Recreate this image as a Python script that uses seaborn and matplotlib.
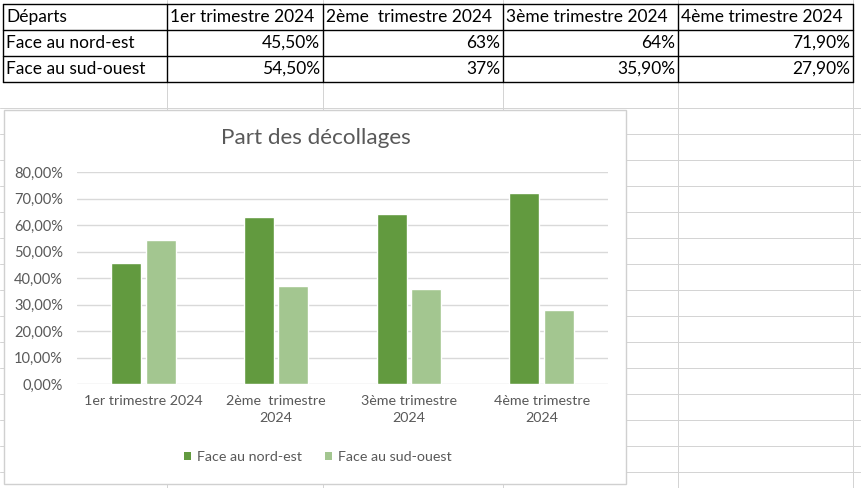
import matplotlib
matplotlib.use("Agg")
import matplotlib.pyplot as plt
import seaborn as sns
import pandas as pd
from matplotlib.patches import Rectangle, Patch
from matplotlib.ticker import FuncFormatter

# ---- data ----
quarters = ["1er trimestre 2024", "2ème  trimestre 2024", "3ème trimestre 2024", "4ème trimestre 2024"]
quarter_labels = ["1er trimestre 2024", "2ème  trimestre\n2024", "3ème trimestre\n2024", "4ème trimestre\n2024"]
series = ["Face au nord-est", "Face au sud-ouest"]
nord_est = [0.455, 0.63, 0.64, 0.719]
sud_ouest = [0.545, 0.37, 0.359, 0.279]
nord_est_txt = ["45,50%", "63%", "64%", "71,90%"]
sud_ouest_txt = ["54,50%", "37%", "35,90%", "27,90%"]
title = "Part des décollages"
header0 = "Départs"

W, H = 861, 488
DPI = 100
sns.set_theme(style="white")
plt.rcParams["font.family"] = ["Lato", "DejaVu Sans"]

dark = "#629a3f"
light = "#a3c690"
txtc = "#595959"
gridc = "#d9d9d9"
sheetc = "#d4d4d4"

fig = plt.figure(figsize=(W / DPI, H / DPI), dpi=DPI)
fig.patch.set_facecolor("white")

def px_axes(x0, y0, x1, y1):
    return fig.add_axes([x0 / W, 1 - y1 / H, (x1 - x0) / W, (y1 - y0) / H])

bg = fig.add_axes([0, 0, 1, 1])
bg.set_xlim(0, W)
bg.set_ylim(H, 0)
bg.axis("off")

lw1 = 72 / DPI  # 1 px

# spreadsheet grid
cols = [3, 167, 323, 503, 678, 853]
rows = [4, 30, 56, 82]
for y in range(108, H, 26):
    bg.plot([0, W], [y, y], color=sheetc, lw=lw1, zorder=1)
for x in cols[1:]:
    bg.plot([x, x], [0, H], color=sheetc, lw=lw1, zorder=1)

# table
for y in rows:
    bg.plot([cols[0], cols[-1]], [y, y], color="black", lw=1.0, zorder=3)
for x in cols:
    bg.plot([x, x], [rows[0], rows[-1]], color="black", lw=1.0, zorder=3)

tfs = 12.5
bg.text(cols[0] + 3, (rows[0] + rows[1]) / 2, header0, fontsize=tfs, va="center", ha="left", color="black", zorder=4)
for i, q in enumerate(quarters):
    bg.text(cols[i + 1] + 3, (rows[0] + rows[1]) / 2, q, fontsize=tfs, va="center", ha="left", color="black", zorder=4)
for r, (name, vals) in enumerate(zip(series, [nord_est_txt, sud_ouest_txt])):
    yc = (rows[r + 1] + rows[r + 2]) / 2
    bg.text(cols[0] + 3, yc, name, fontsize=tfs, va="center", ha="left", color="black", zorder=4)
    for i, v in enumerate(vals):
        bg.text(cols[i + 2] - 3, yc, v, fontsize=tfs, va="center", ha="right", color="black", zorder=4)

# chart box
bg.add_patch(Rectangle((4, 110), 622, 374, facecolor="white", edgecolor="#d0d0d0", lw=1.0, zorder=5))
bg.text(316, 138, title, fontsize=16.2, ha="center", va="center", color=txtc, zorder=6)

# chart axes
ax = px_axes(77, 172, 608, 384)
ax.set_zorder(10)
ax.patch.set_alpha(0)
df = pd.DataFrame({
    "quarter": quarters * 2,
    "series": [series[0]] * 4 + [series[1]] * 4,
    "value": nord_est + sud_ouest,
})
sns.barplot(data=df, x="quarter", y="value", hue="series", order=quarters, hue_order=series,
            palette=[dark, light], width=0.52, gap=0.13, saturation=1, ax=ax, legend=False)
ax.set_ylim(0, 0.8)
ax.set_xlim(-0.5, 3.5)
ax.set_yticks([i / 10 for i in range(9)])
ax.yaxis.set_major_formatter(FuncFormatter(lambda v, p: f"{v * 100:.2f}%".replace(".", ",")))
ax.set_xticks(range(4))
ax.set_xticklabels(quarter_labels, linespacing=1.45)
ax.grid(axis="y", color=gridc, lw=1.0)
ax.set_axisbelow(True)
for s in ax.spines.values():
    s.set_visible(False)
ax.tick_params(axis="both", length=0, labelcolor=txtc)
ax.tick_params(axis="x", labelsize=10.3, pad=8)
ax.tick_params(axis="y", labelsize=10.5, pad=10)
ax.set_xlabel("")
ax.set_ylabel("")

handles = [Patch(facecolor=dark, edgecolor="none"), Patch(facecolor=light, edgecolor="none")]
leg = fig.legend(handles, series, loc="center", bbox_to_anchor=(318 / W, 1 - 457 / H), ncol=2,
                 frameon=False, fontsize=10.3, handlelength=0.5, handleheight=0.5,
                 handletextpad=0.4, columnspacing=1.6, labelcolor=txtc)
leg.set_zorder(20)

fig.savefig("out.png", dpi=DPI)
